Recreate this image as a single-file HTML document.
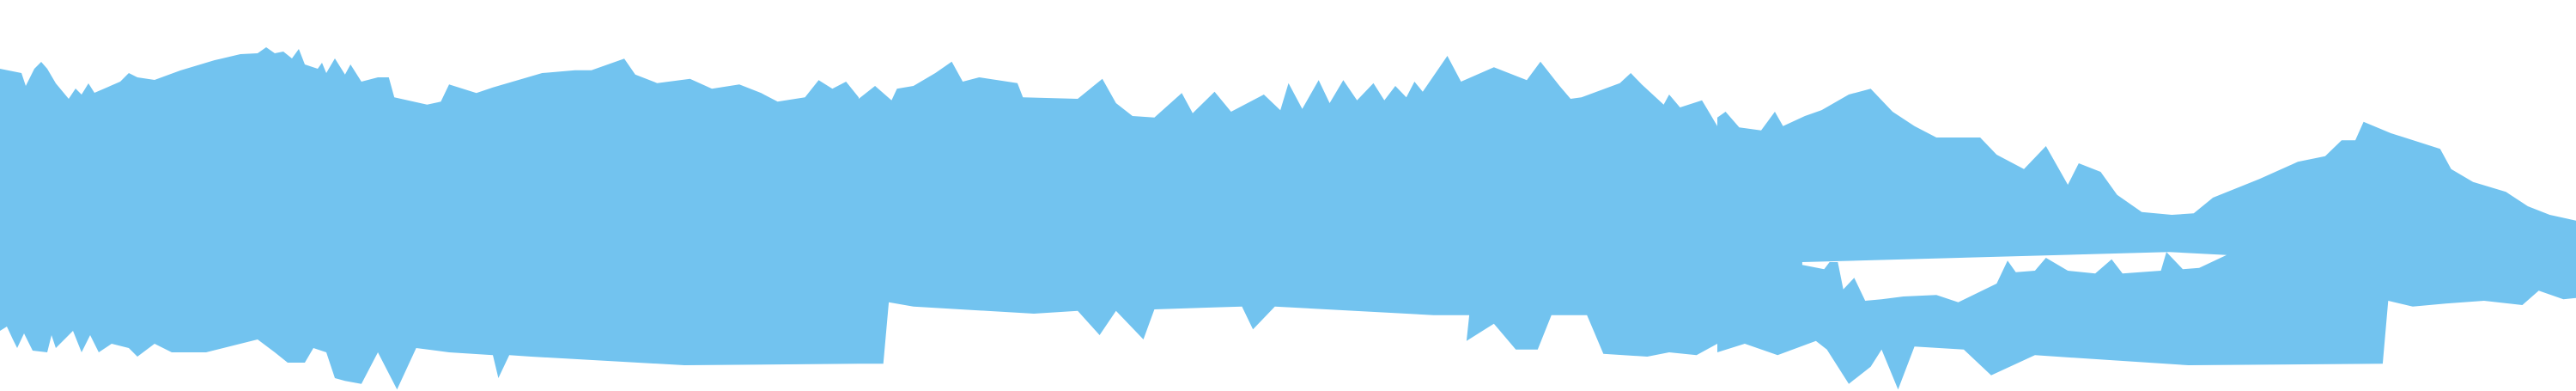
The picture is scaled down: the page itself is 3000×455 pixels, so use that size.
<!DOCTYPE html>
<html><head><meta charset="utf-8"><style>
html,body{margin:0;padding:0;background:#fff;}
svg{display:block;}
</style></head><body>
<svg id="chart" width="3000" height="455" viewBox="0 0 3000 455" xmlns="http://www.w3.org/2000/svg"></svg>
<script>
// Segment 0 (first 400px) values in base units
const p0TopX=[0,25,30,40,48,55,65,80,88,95,103,110,140,150,160,180,210,250,280,300,310,320,330,340,348,355,370,375,380,390];
const p0TopY=[80,85,100,80,72,80,97,115,103,110,97,108,95,85,90,93,82,70,63,62,55,62,60,68,57,75,80,73,85,68];
const p0BotX=[0,8,15,20,28,38,55,60,65,75,85,95,105,115,130,150,160,180,200,220,240,260,280,300,320,335,355,365,380,390];
const p0BotY=[385,380,395,405,388,408,410,390,405,395,385,410,390,410,400,405,415,400,410,410,410,405,400,395,410,422,422,405,410,440];
// Panels 1-3 in zoom units (x/1.568, y/3)
const p1TopX=[630,640,660,690,710,720,780,805,820,870,900,990,1050,1080,1140,1160,1200,1260,1300,1350,1390,1420,1470,1495,1520,1545,1568];
const p1TopY=[260,225,285,270,270,340,365,355,295,325,305,255,245,245,205,260,290,275,310,295,325,355,340,280,310,285,340];
const p2TopX=[0,30,60,70,100,140,170,190,220,290,300,400,445,470,500,540,590,610,650,680,740,770,785,810,840,860,885,910,940,960,980,1000,1015,1030,1075,1100,1160,1220,1245,1280,1300,1320,1390,1410,1430,1470,1480,1500,1540,1568];
const p2TopY=[345,300,350,310,300,255,215,285,270,290,340,345,275,360,405,410,325,395,320,390,330,385,290,380,280,360,280,350,290,350,300,340,285,320,195,285,235,280,215,300,345,340,290,255,295,365,330,375,350,440];
const p3TopX=[0,15,40,80,105,120,160,190,240,280,320,360,400,430,480,510,560,600,640,660,700,730,775,830,870,905,990,1060,1110,1140,1165,1180,1230,1320,1340,1380,1440,1480,1520,1568];
const p3TopY=[410,390,445,455,390,440,405,385,330,310,390,440,480,480,480,540,590,510,645,570,600,680,740,750,745,690,625,565,545,490,490,425,465,520,590,635,670,720,750,770];
const p1BotX=[630,660,690,725,760,820,900,910,930,970,1250,1568];
const p1BotY=[1330,1340,1230,1360,1215,1230,1240,1320,1240,1245,1275,1270];
const p2BotX=[0,45,55,100,320,400,440,470,520,540,700,720,760,1050,1115,1110,1160,1200,1240,1265,1330,1360,1440,1480,1530,1568];
const p2BotY=[1270,1270,1055,1070,1095,1085,1170,1085,1185,1080,1070,1150,1070,1100,1100,1190,1130,1220,1220,1100,1100,1235,1245,1230,1240,1200];
const p3BotX=[0,50,110,180,200,240,280,300,330,360,450,500,580,860,1215,1225,1270,1330,1400,1470,1500,1545,1568];
const p3BotY=[1230,1200,1240,1190,1220,1340,1280,1220,1360,1210,1220,1310,1240,1275,1270,1050,1070,1060,1050,1065,1015,1045,1040];
const gapX=[155,825,930,880,850,820,810,740,720,690,640,600,580,545,530,510,440,400,340,300,270,250,230,220,205,195,155];
const gapY=[915,880,890,935,940,880,945,955,905,955,945,900,945,950,910,990,1055,1030,1035,1045,1050,970,1010,915,915,940,925];

const xScale=(panel,v)=>panel*1000+v/1.568;
const yScale=v=>v/3;
function pts(panel,xs,ys){return xs.map((x,i)=>[xScale(panel,x),yScale(ys[i])]);}
function pts0(xs,ys){return xs.map((x,i)=>[x,ys[i]]);}
const topEdge=[...pts0(p0TopX,p0TopY),...pts(0,p1TopX,p1TopY),...pts(1,p2TopX,p2TopY),...pts(2,p3TopX,p3TopY)];
const botEdge=[...pts0(p0BotX,p0BotY),...pts(0,p1BotX,p1BotY),...pts(1,p2BotX,p2BotY),...pts(2,p3BotX,p3BotY)];
const svg=document.getElementById('chart');
const NS='http://www.w3.org/2000/svg';
let d='M'+topEdge.map(p=>p[0].toFixed(1)+','+p[1].toFixed(1)).join('L');
d+='L'+botEdge.slice().reverse().map(p=>p[0].toFixed(1)+','+p[1].toFixed(1)).join('L')+'Z';
const area=document.createElementNS(NS,'path');
area.setAttribute('d',d);
area.setAttribute('fill','#72c3ef');


svg.appendChild(area);
const gp=pts(2,gapX,gapY);
const gap=document.createElementNS(NS,'path');
gap.setAttribute('d','M'+gp.map(p=>p[0].toFixed(1)+','+p[1].toFixed(1)).join('L')+'Z');
gap.setAttribute('fill','#ffffff');


svg.appendChild(gap);
</script>
</body></html>
